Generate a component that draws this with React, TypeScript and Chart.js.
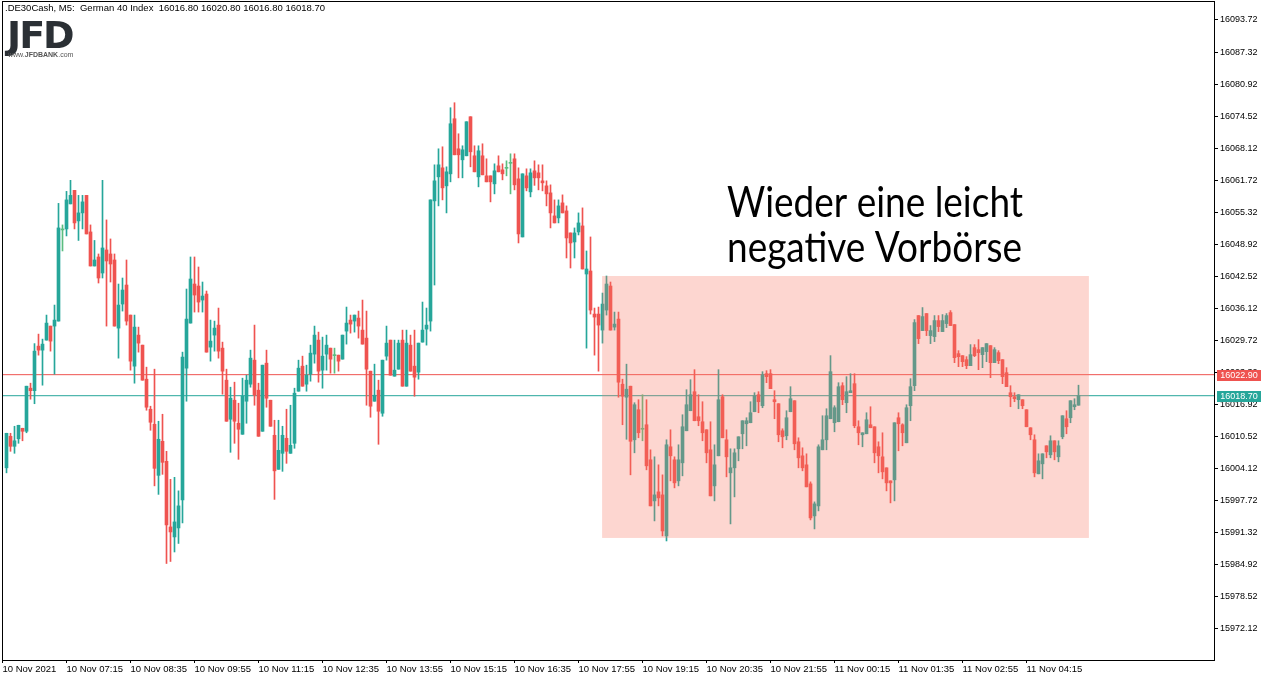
import React, { useEffect, useRef } from 'react';
import { Chart, registerables } from 'chart.js';

Chart.register(...registerables);

// ---- Data (M5 candles, .DE30Cash) ----
const opens = [
  16004.3, 16010.6, 16008.6, 16010.1, 16012.2, 16011.6, 16020.2, 16019.7, 16028.6, 16027.8,
  16029.8, 16032.6, 16032.6, 16033.6, 16051.8, 16052.0, 16057.0, 16059.7, 16053.6, 16055.2,
  16058.7, 16051.4, 16044.6, 16046.4, 16043.2, 16047.8, 16047.0, 16045.8, 16032.2, 16037.0,
  16040.8, 16034.8, 16024.6, 16030.8, 16028.8, 16022.0, 16016.0, 16013.0, 16002.8, 16009.6,
  16005.6, 15992.5, 15990.5, 15992.3, 15997.9, 16024.2, 16033.2, 16041.0, 16040.6, 16037.8,
  16039.0, 16028.4, 16030.8, 16032.8, 16028.2, 16021.8, 16014.0, 16017.8, 16013.2, 16011.0,
  16017.6, 16021.0, 16025.8, 16019.8, 16011.6, 16025.2, 16017.8, 16010.8, 16004.0, 16007.2,
  16010.2, 16007.2, 16009.2, 16019.6, 16024.6, 16021.0, 16023.0, 16027.0, 16029.8, 16023.8,
  16027.0, 16028.2, 16026.7, 16026.8, 16026.0, 16031.6, 16033.8, 16033.6, 16034.2, 16031.8,
  16030.2, 16023.6, 16017.6, 16019.8, 16015.2, 16026.6, 16029.8, 16022.6, 16024.0, 16029.8,
  16020.6, 16028.8, 16024.6, 16023.4, 16029.4, 16032.0, 16033.6, 16057.6, 16062.4, 16064.2,
  16060.6, 16063.0, 16074.0, 16068.0, 16065.8, 16066.6, 16074.4, 16066.6, 16062.4, 16066.6,
  16062.6, 16062.6, 16061.0, 16064.6, 16063.8, 16064.1, 16065.1, 16066.0, 16062.0, 16050.4,
  16062.6, 16059.4, 16063.6, 16063.2, 16061.6, 16060.6, 16059.2, 16054.6, 16054.2, 16057.2,
  16055.6, 16051.2, 16049.4, 16051.4, 16052.6, 16043.0, 16043.6, 16035.0, 16035.0, 16031.8,
  16035.8, 16040.6, 16032.4, 16034.0, 16021.0, 16018.4, 16020.6, 16009.9, 16015.9, 16012.0,
  16012.9, 16005.9, 15997.7, 15999.5, 15998.9, 15990.7, 16008.5, 16005.9, 16001.7, 16005.3,
  16011.7, 16015.7, 16019.5, 16014.5, 16013.5, 16011.9, 16007.9, 16000.7, 16006.7, 16018.5,
  16009.9, 16003.3, 16004.3, 16008.1, 16011.1, 16013.1, 16013.3, 16015.5, 16018.9, 16016.7,
  16023.1, 16023.1, 16017.9, 16017.1, 16011.7, 16010.7, 16015.5, 16017.7, 16009.5, 16006.7,
  16004.9, 16001.1, 15994.7, 15996.7, 16007.9, 16009.9, 16014.1, 16013.3, 16013.5, 16020.7,
  16017.3, 16019.3, 16021.1, 16012.5, 16010.9, 16011.1, 16012.9, 16012.5, 16008.5, 16006.5,
  16004.3, 16001.7, 16001.9, 16014.3, 16012.9, 16009.3, 16016.7, 16020.7, 16034.7, 16031.7,
  16035.1, 16030.7, 16030.5, 16033.7, 16031.5, 16033.1, 16035.3, 16032.9, 16027.1, 16026.7,
  16025.9, 16024.7, 16028.3, 16027.9, 16026.9, 16027.5, 16028.7, 16025.3, 16027.3, 16025.9,
  16023.3, 16019.3, 16018.5, 16017.9, 16017.9, 16015.9, 16012.3, 16009.9, 16003.1, 16005.1,
  16008.7, 16006.9, 16009.7, 16006.5, 16010.5, 16014.1, 16014.3, 16016.5, 16016.8,
];

const highs = [
  16011.2, 16011.2, 16012.6, 16012.8, 16012.2, 16020.6, 16021.2, 16029.1, 16031.0, 16030.0,
  16034.8, 16032.6, 16036.8, 16057.1, 16052.8, 16059.5, 16061.7, 16059.7, 16058.7, 16058.7,
  16058.7, 16052.8, 16049.7, 16047.0, 16061.7, 16053.8, 16050.0, 16047.0, 16041.0, 16042.2,
  16045.8, 16034.8, 16034.8, 16032.4, 16028.8, 16024.4, 16016.6, 16024.0, 16013.6, 16015.0,
  16007.6, 16002.0, 16002.4, 15999.7, 16027.4, 16040.0, 16046.4, 16046.4, 16044.4, 16041.4,
  16039.6, 16033.8, 16033.6, 16036.2, 16029.4, 16024.0, 16020.4, 16021.4, 16017.2, 16022.2,
  16022.8, 16027.8, 16032.8, 16021.2, 16024.8, 16027.8, 16017.8, 16013.8, 16013.8, 16012.6,
  16016.0, 16016.8, 16020.2, 16025.8, 16026.6, 16024.8, 16028.8, 16032.6, 16031.4, 16030.4,
  16030.8, 16028.2, 16028.2, 16026.8, 16030.8, 16036.4, 16034.8, 16034.8, 16035.6, 16037.8,
  16035.6, 16023.6, 16025.0, 16021.8, 16025.8, 16032.6, 16029.8, 16029.8, 16029.8, 16031.8,
  16031.8, 16030.8, 16031.8, 16029.2, 16037.4, 16036.2, 16057.8, 16064.8, 16068.0, 16068.4,
  16064.4, 16076.2, 16077.2, 16071.0, 16068.6, 16073.4, 16074.4, 16068.6, 16068.6, 16069.0,
  16066.0, 16062.6, 16065.0, 16066.6, 16065.0, 16065.6, 16067.0, 16067.0, 16064.2, 16063.0,
  16064.0, 16064.0, 16065.6, 16064.8, 16064.8, 16061.6, 16060.8, 16057.8, 16057.8, 16058.8,
  16056.6, 16051.2, 16052.2, 16055.2, 16056.2, 16047.6, 16050.4, 16036.2, 16036.4, 16039.2,
  16042.6, 16041.4, 16035.4, 16035.4, 16022.0, 16025.0, 16020.6, 16017.3, 16017.9, 16018.9,
  16017.9, 16007.9, 16006.5, 16004.9, 16002.9, 16009.9, 16011.9, 16006.5, 16008.9, 16014.9,
  16019.9, 16021.9, 16023.9, 16018.9, 16017.5, 16011.9, 16013.5, 16008.9, 16023.9, 16018.9,
  16011.9, 16008.1, 16008.1, 16010.5, 16013.7, 16014.3, 16017.5, 16019.3, 16019.5, 16023.5,
  16023.7, 16023.9, 16019.7, 16017.1, 16012.1, 16015.7, 16020.5, 16017.7, 16010.3, 16008.3,
  16007.1, 16001.5, 15997.5, 16008.9, 16014.7, 16016.1, 16026.7, 16016.7, 16021.3, 16021.3,
  16022.5, 16023.1, 16023.1, 16013.7, 16011.3, 16015.3, 16016.5, 16012.5, 16009.5, 16011.3,
  16004.3, 16001.7, 16013.3, 16015.3, 16013.1, 16016.9, 16022.1, 16033.9, 16034.7, 16036.3,
  16035.1, 16032.7, 16034.7, 16034.7, 16034.9, 16035.1, 16035.7, 16032.9, 16027.7, 16026.7,
  16026.5, 16028.9, 16028.9, 16029.9, 16028.3, 16029.1, 16028.7, 16028.3, 16027.7, 16025.9,
  16024.3, 16020.7, 16019.3, 16018.9, 16017.9, 16015.9, 16012.3, 16010.9, 16007.1, 16007.1,
  16008.7, 16010.7, 16009.7, 16009.7, 16014.7, 16015.7, 16017.7, 16018.1, 16020.8,
];

const lows = [
  16003.3, 16007.6, 16007.2, 16009.2, 16009.7, 16011.3, 16018.0, 16017.1, 16026.8, 16020.8,
  16029.8, 16027.6, 16023.0, 16033.6, 16047.6, 16050.6, 16057.0, 16052.0, 16049.7, 16052.0,
  16051.0, 16044.6, 16044.6, 16041.2, 16042.2, 16032.6, 16041.4, 16032.6, 16026.2, 16035.6,
  16032.8, 16023.8, 16021.2, 16027.4, 16021.8, 16015.8, 16011.8, 16000.7, 15999.0, 16003.0,
  15985.2, 15985.6, 15987.5, 15989.2, 15993.3, 16017.6, 16033.2, 16035.4, 16035.4, 16035.4,
  16027.4, 16025.6, 16027.6, 16026.2, 16019.0, 16013.6, 16007.4, 16009.2, 16006.0, 16011.0,
  16013.2, 16020.4, 16016.8, 16010.6, 16011.6, 16016.4, 16012.6, 15998.0, 16004.0, 16003.6,
  16005.2, 16007.2, 16008.2, 16019.6, 16020.6, 16019.6, 16021.6, 16025.2, 16021.4, 16020.2,
  16023.8, 16023.2, 16023.2, 16023.6, 16026.0, 16029.0, 16031.2, 16031.4, 16030.2, 16029.0,
  16016.8, 16014.4, 16017.6, 16009.0, 16014.6, 16025.8, 16022.8, 16022.6, 16024.0, 16020.6,
  16020.6, 16023.6, 16018.6, 16022.0, 16029.4, 16028.8, 16031.6, 16040.8, 16056.6, 16057.8,
  16055.2, 16061.4, 16066.8, 16062.2, 16062.2, 16066.6, 16064.4, 16063.4, 16060.4, 16062.8,
  16061.4, 16057.4, 16059.0, 16063.4, 16061.8, 16062.6, 16059.0, 16059.8, 16049.2, 16050.4,
  16059.6, 16058.4, 16060.7, 16059.8, 16059.6, 16056.6, 16052.2, 16053.2, 16053.2, 16055.2,
  16046.2, 16044.2, 16046.2, 16050.8, 16044.0, 16028.2, 16035.0, 16026.8, 16023.6, 16029.2,
  16034.8, 16031.8, 16031.8, 16018.4, 16012.9, 16010.0, 16002.9, 16007.3, 16010.3, 16009.7,
  16003.9, 15996.7, 15993.7, 15996.7, 15990.7, 15989.7, 16001.7, 16000.3, 16000.7, 16002.7,
  16011.7, 16015.7, 16013.7, 16012.7, 16009.7, 16005.3, 15998.7, 15997.7, 16006.7, 16010.3,
  16002.5, 15993.1, 15998.5, 16005.7, 16008.1, 16008.7, 16013.3, 16015.5, 16015.3, 16016.3,
  16021.3, 16020.1, 16014.1, 16009.5, 16008.3, 16009.9, 16015.5, 16007.9, 16004.3, 16003.7,
  16000.5, 15993.9, 15992.1, 15995.7, 16007.9, 16007.9, 16014.1, 16011.5, 16013.5, 16016.9,
  16015.3, 16019.3, 16012.3, 16008.9, 16008.5, 16011.1, 16012.3, 16005.3, 16003.3, 16002.1,
  15999.7, 15997.3, 15997.7, 16007.7, 16008.7, 16009.3, 16013.7, 16019.7, 16029.1, 16031.7,
  16030.7, 16029.1, 16029.5, 16031.5, 16031.5, 16032.3, 16032.7, 16025.3, 16024.5, 16024.5,
  16024.1, 16024.7, 16026.5, 16023.9, 16024.3, 16025.5, 16022.3, 16025.3, 16025.1, 16021.1,
  16020.5, 16016.5, 16017.5, 16016.1, 16016.1, 16012.5, 16009.9, 16002.5, 16003.1, 16002.1,
  16006.3, 16006.3, 16005.9, 16005.5, 16010.1, 16011.1, 16013.3, 16015.9, 16016.8,
];

const closes = [
  16011.2, 16008.6, 16009.7, 16012.8, 16011.6, 16020.6, 16019.7, 16027.6, 16027.8, 16029.0,
  16033.2, 16029.6, 16033.8, 16052.2, 16051.8, 16057.8, 16058.7, 16053.2, 16055.2, 16057.4,
  16051.0, 16044.6, 16045.8, 16042.2, 16048.2, 16045.6, 16045.0, 16032.6, 16036.8, 16039.8,
  16033.6, 16025.6, 16032.4, 16029.2, 16021.8, 16016.4, 16013.4, 16004.2, 16010.0, 16005.4,
  15992.9, 15991.5, 15993.5, 15996.7, 16026.4, 16034.0, 16042.0, 16038.8, 16037.4, 16038.6,
  16027.4, 16029.6, 16032.2, 16027.6, 16023.6, 16013.6, 16018.2, 16013.6, 16012.0, 16018.6,
  16021.8, 16026.2, 16018.8, 16010.6, 16024.8, 16018.2, 16012.6, 16003.7, 16007.8, 16010.8,
  16007.6, 16008.8, 16019.2, 16024.2, 16020.6, 16022.8, 16027.2, 16030.8, 16023.6, 16026.6,
  16028.8, 16026.0, 16026.7, 16025.6, 16030.8, 16033.2, 16033.0, 16034.8, 16032.6, 16029.0,
  16024.0, 16016.6, 16018.8, 16015.6, 16025.8, 16029.2, 16022.8, 16023.8, 16029.2, 16020.6,
  16029.2, 16023.6, 16022.4, 16029.2, 16031.8, 16032.8, 16057.8, 16061.6, 16064.8, 16060.2,
  16063.4, 16073.0, 16066.8, 16066.8, 16067.8, 16073.4, 16067.4, 16063.4, 16067.6, 16062.8,
  16061.4, 16061.4, 16063.6, 16063.4, 16063.0, 16064.1, 16065.1, 16060.8, 16051.0, 16063.0,
  16060.2, 16063.2, 16062.2, 16062.2, 16061.2, 16059.0, 16055.2, 16053.2, 16056.6, 16055.2,
  16050.2, 16049.2, 16051.2, 16053.2, 16044.0, 16044.0, 16035.8, 16034.4, 16032.8, 16037.0,
  16041.0, 16031.8, 16033.0, 16021.4, 16018.6, 16020.0, 16009.6, 16016.9, 16011.3, 16012.0,
  16004.7, 15996.7, 15998.9, 15998.3, 15991.7, 16008.9, 16006.7, 16001.3, 16005.9, 16012.5,
  16016.9, 16018.9, 16013.7, 16013.7, 16011.3, 16007.3, 15998.7, 16004.9, 16017.9, 16010.3,
  16006.5, 16004.3, 16007.3, 16010.5, 16013.7, 16013.7, 16015.3, 16018.7, 16017.5, 16022.9,
  16022.5, 16020.1, 16017.5, 16010.9, 16010.5, 16014.3, 16018.1, 16009.1, 16006.3, 16004.3,
  16000.5, 15994.3, 15997.1, 16008.5, 16009.9, 16014.7, 16023.5, 16016.3, 16020.5, 16017.9,
  16019.5, 16019.7, 16012.7, 16011.3, 16011.3, 16013.9, 16012.3, 16007.3, 16006.7, 16003.5,
  16001.3, 16001.3, 16013.3, 16013.1, 16011.3, 16016.3, 16020.5, 16033.3, 16030.1, 16034.5,
  16031.7, 16031.7, 16033.7, 16032.5, 16033.7, 16034.7, 16032.7, 16026.3, 16026.5, 16025.5,
  16024.7, 16026.9, 16026.7, 16027.3, 16028.3, 16029.1, 16025.3, 16027.9, 16025.7, 16022.5,
  16020.5, 16018.5, 16018.1, 16018.9, 16016.7, 16012.5, 16010.9, 16003.3, 16005.7, 16007.1,
  16007.5, 16009.7, 16007.5, 16008.7, 16014.7, 16012.5, 16017.7, 16016.9, 16018.7,
];

const xTickIndices = [0, 16, 32, 48, 64, 80, 96, 112, 128, 144, 160, 176, 192, 208, 224, 240, 256];
const xTickLabels = [
  '10 Nov 2021', '10 Nov 07:15', '10 Nov 08:35', '10 Nov 09:55', '10 Nov 11:15', '10 Nov 12:35',
  '10 Nov 13:55', '10 Nov 15:15', '10 Nov 16:35', '10 Nov 17:55', '10 Nov 19:15', '10 Nov 20:35',
  '10 Nov 21:55', '11 Nov 00:15', '11 Nov 01:35', '11 Nov 02:55', '11 Nov 04:15',
];
const yTickValues = [
  16093.72, 16087.32, 16080.92, 16074.52, 16068.12, 16061.72, 16055.32, 16048.92, 16042.52, 16036.12,
  16029.72, 16023.32, 16016.92, 16010.52, 16004.12, 15997.72, 15991.32, 15984.92, 15978.52, 15972.12,
];

const askLine = 16022.9;
const bidLine = 16018.7;
const yMin = 15965.93;
const yMax = 16097.51;
const xMin = -0.125;
const xMax = 302.875;
const zoneStart = 149.9;
const zoneEnd = 271.6;
const zoneTop = 16042.6;
const zoneBottom = 15990.3;

const headerText = '.DE30Cash, M5:  German 40 Index  16016.80 16020.80 16016.80 16018.70';
const noteLines = ['Wieder eine leicht', 'negative Vorbörse'];

const UP = '#26a69a';
const DOWN = '#ef5350';
const DOJI = '#5bbd80';
const Y_FONT = { family: '"Liberation Sans", Arial, sans-serif', size: 9 };
const X_FONT = { family: '"Liberation Sans", Arial, sans-serif', size: 9.5 };

export default function App() {
  const canvasRef = useRef<HTMLCanvasElement | null>(null);

  useEffect(() => {
    document.body.style.margin = '0';
    const canvas = canvasRef.current;
    if (!canvas) return;

    const colors = opens.map((o, i) => (closes[i] > o ? UP : closes[i] < o ? DOWN : DOJI));
    const idx = opens.map((_, i) => i + 1);

    const overlayPlugin = {
      id: 'mt5Overlay',
      afterDatasetsDraw(chart: any) {
        const { ctx, scales } = chart;
        const x = scales.x;
        const y = scales.y;
        const l = x.getPixelForValue(zoneStart);
        const r = x.getPixelForValue(zoneEnd);
        const t = y.getPixelForValue(zoneTop);
        const b = y.getPixelForValue(zoneBottom);
        ctx.save();
        ctx.fillStyle = 'rgba(248,120,100,0.3)';
        ctx.fillRect(l, t, r - l, b - t);
        ctx.restore();
      },
      afterDraw(chart: any) {
        const { ctx, chartArea: a, scales } = chart;
        const y = scales.y;
        ctx.save();
        ctx.strokeStyle = '#000';
        ctx.lineWidth = 1;
        ctx.strokeRect(a.left + 0.5, a.top + 0.5, a.right - a.left, a.bottom - a.top);
        const tags: [number, string][] = [[askLine, DOWN], [bidLine, UP]];
        tags.forEach(([v, c]) => {
          const py = Math.round(y.getPixelForValue(v));
          ctx.fillStyle = c;
          ctx.fillRect(a.right + 3, py - 5, 44, 11);
          ctx.fillStyle = '#fff';
          ctx.font = '9px "Liberation Sans", Arial, sans-serif';
          ctx.textAlign = 'center';
          ctx.textBaseline = 'middle';
          ctx.fillText(v.toFixed(2), a.right + 25, py + 1);
        });
        ctx.fillStyle = '#000';
        ctx.font = '42px Lato, "Open Sans", sans-serif';
        ctx.textAlign = 'left';
        ctx.textBaseline = 'alphabetic';
        ctx.fillText(noteLines[0], 727, 217, 296);
        ctx.fillText(noteLines[1], 727, 262, 295);
        ctx.restore();
      },
    };

    const chart = new Chart(canvas, {
      type: 'bar',
      data: {
        datasets: [
          {
            type: 'line',
            data: [{ x: xMin, y: askLine }, { x: xMax, y: askLine }],
            borderColor: DOWN,
            borderWidth: 1,
            pointRadius: 0,
            order: 3,
          } as any,
          {
            type: 'line',
            data: [{ x: xMin, y: bidLine }, { x: xMax, y: bidLine }],
            borderColor: UP,
            borderWidth: 1,
            pointRadius: 0,
            order: 3,
          } as any,
          {
            type: 'bar',
            data: idx.map((n, i) => ({ x: n, y: [lows[i], highs[i]] })),
            backgroundColor: colors,
            borderWidth: 0,
            barThickness: 1,
            grouped: false,
            order: 2,
          } as any,
          {
            type: 'bar',
            data: idx.map((n, i) => ({ x: n, y: [opens[i], closes[i]] })),
            backgroundColor: colors,
            borderWidth: 0,
            barThickness: 3,
            minBarLength: 1,
            grouped: false,
            order: 1,
          } as any,
        ],
      },
      options: {
        responsive: false,
        animation: false,
        events: [],
        layout: { padding: { left: 2, top: 1, right: 0, bottom: 0 } },
        plugins: { legend: { display: false }, tooltip: { enabled: false } },
        scales: {
          x: {
            type: 'linear',
            min: xMin,
            max: xMax,
            offset: false,
            bounds: 'data',
            afterBuildTicks: (s: any) => {
              s.ticks = xTickIndices.map((v) => ({ value: v }));
            },
            afterFit: (s: any) => {
              s.height = 21;
              s.paddingLeft = 0;
              s.paddingRight = 0;
              s.paddingTop = 0;
              s.paddingBottom = 0;
            },
            border: { display: false },
            grid: { display: true, drawOnChartArea: false, drawTicks: true, tickLength: 3, color: '#000', offset: false },
            ticks: {
              autoSkip: false,
              maxRotation: 0,
              minRotation: 0,
              align: 'start',
              padding: 1,
              color: '#000',
              font: X_FONT,
              callback: (v: any) => {
                const k = xTickIndices.indexOf(Number(v));
                return k >= 0 ? xTickLabels[k] : '';
              },
            },
          },
          y: {
            type: 'linear',
            position: 'right',
            min: yMin,
            max: yMax,
            beginAtZero: false,
            bounds: 'data',
            afterBuildTicks: (s: any) => {
              s.ticks = yTickValues.map((v) => ({ value: v }));
            },
            afterFit: (s: any) => {
              s.width = 58;
              s.paddingLeft = 0;
              s.paddingRight = 0;
              s.paddingTop = 0;
              s.paddingBottom = 0;
            },
            border: { display: false },
            grid: { display: true, drawOnChartArea: false, drawTicks: true, tickLength: 4, color: '#000' },
            ticks: {
              autoSkip: false,
              padding: 2,
              color: '#000',
              font: Y_FONT,
              callback: (v: any) => Number(v).toFixed(2),
            },
          },
        },
      } as any,
      plugins: [overlayPlugin],
    });

    return () => chart.destroy();
  }, []);

  return (
    <div style={{ position: 'fixed', left: 0, top: 0, width: 1272, height: 681, background: '#fff', overflow: 'hidden' }}>
      <canvas ref={canvasRef} width={1272} height={681} style={{ position: 'absolute', left: 0, top: 0 }} />
      <div
        style={{
          position: 'absolute',
          left: 5,
          top: 2,
          font: '9.5px "Liberation Sans", Arial, sans-serif',
          lineHeight: '12px',
          whiteSpace: 'pre',
          color: '#000',
        }}
      >
        {headerText}
      </div>
      <div
        style={{
          position: 'absolute',
          left: 7,
          top: 16,
          font: 'bold 38px "DejaVu Sans", sans-serif',
          lineHeight: '38px',
          letterSpacing: '-2px',
          color: '#2b3035',
        }}
      >
        JFD
      </div>
      <div
        style={{
          position: 'absolute',
          left: 8,
          top: 50,
          font: '7px "Liberation Sans", Arial, sans-serif',
          lineHeight: '9px',
          color: '#555',
          whiteSpace: 'pre',
        }}
      >
        www.<b>JFDBANK</b>.com
      </div>
    </div>
  );
}
